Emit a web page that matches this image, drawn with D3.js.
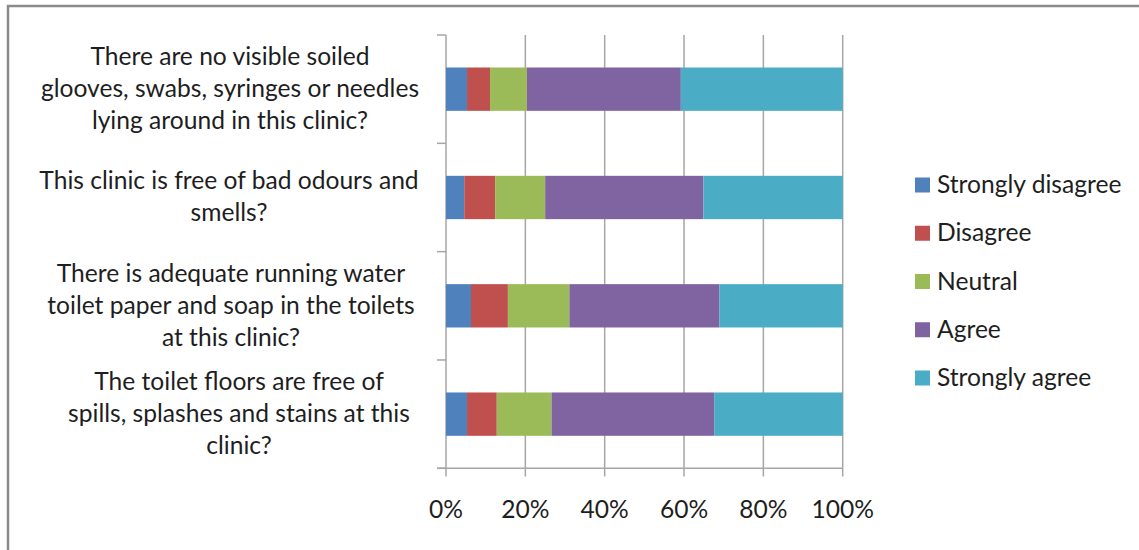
<!DOCTYPE html>
<html><head><meta charset="utf-8">
<script src="https://cdn.jsdelivr.net/npm/d3@7"></script>
<style>html,body{margin:0;padding:0;background:#fff;}svg{display:block;}</style>
</head><body>
<svg id="chart" width="1139" height="550"></svg>
<script>
// ---- data ----
const categories = [
  "There are no visible soiled glooves, swabs, syringes or needles lying around in this clinic?",
  "This clinic is free of bad odours and smells?",
  "There is adequate running water toilet paper and soap in the toilets at this clinic?",
  "The toilet floors are free of spills, splashes and stains at this clinic?"
];
const categoryLines = [
  ["There are no visible soiled", "glooves, swabs, syringes or needles", "lying around in this clinic?"],
  ["This clinic is free of bad odours and", "smells?"],
  ["There is adequate running water", "toilet paper and soap in the toilets", "at this clinic?"],
  ["The toilet floors are free of", "spills, splashes and stains at this", "clinic?"]
];
const seriesNames = ["Strongly disagree", "Disagree", "Neutral", "Agree", "Strongly agree"];
const stronglyDisagree = [5.3, 4.6, 6.3, 5.3];
const disagree = [5.8, 7.8, 9.3, 7.5];
const neutral = [9.3, 12.6, 15.5, 13.8];
const agree = [38.8, 39.9, 37.8, 41.0];
const stronglyAgree = [40.8, 35.1, 31.1, 32.4];
const xTicks = [0, 20, 40, 60, 80, 100];
const xTickLabels = ["0%", "20%", "40%", "60%", "80%", "100%"];
const colors = ["#4F81BD", "#C0504D", "#9BBB59", "#8064A2", "#4BACC6"];

// ---- build table ----
const seriesArrays = [stronglyDisagree, disagree, neutral, agree, stronglyAgree];
const table = categories.map((c, i) => {
  const row = {category: c};
  seriesNames.forEach((s, j) => row[s] = seriesArrays[j][i]);
  return row;
});
const stacked = d3.stack().keys(seriesNames)(table);

const svg = d3.select("#chart");
const FONT = "Lato, 'Open Sans', sans-serif";
const FS = 24.6;
const TEXT = "#1e1e1e";

// frame
svg.append("rect").attr("x", 8).attr("y", 6).attr("width", 1300).attr("height", 700)
  .attr("fill", "none").attr("stroke", "#8a8a8a").attr("stroke-width", 2.5);

const x = d3.scaleLinear().domain([0, 100]).range([446, 842.7]);
const y = d3.scaleBand().domain(categories).range([35, 468.3]).paddingInner(0).paddingOuter(0);
const bw = y.bandwidth();
const gridColor = "#a6a6a6";

// gridlines
svg.append("g").selectAll("line").data(xTicks.slice(1)).join("line")
  .attr("x1", d => x(d)).attr("x2", d => x(d))
  .attr("y1", 35).attr("y2", 476.5)
  .attr("stroke", gridColor).attr("stroke-width", 1.5);

// y axis
const yAxis = svg.append("g");
yAxis.append("line").attr("x1", x(0)).attr("x2", x(0)).attr("y1", 35).attr("y2", 476.5)
  .attr("stroke", gridColor).attr("stroke-width", 1.5);
const boundaries = categories.map(c => y(c)).concat([y(categories[categories.length-1]) + bw]);
yAxis.selectAll("line.tick").data(boundaries).join("line").attr("class","tick")
  .attr("x1", x(0) - 9).attr("x2", x(0)).attr("y1", d => d).attr("y2", d => d)
  .attr("stroke", gridColor).attr("stroke-width", 1.5);
// x axis line
svg.append("line").attr("x1", x(0) - 9).attr("x2", x(100)).attr("y1", 468.3).attr("y2", 468.3)
  .attr("stroke", gridColor).attr("stroke-width", 1.5);

// bars
svg.append("g").selectAll("g").data(stacked).join("g")
  .attr("fill", (d, i) => colors[i])
  .selectAll("rect").data(d => d).join("rect")
  .attr("x", d => x(d[0]))
  .attr("width", d => x(d[1]) - x(d[0]))
  .attr("y", d => y(d.data.category) + bw * 0.3)
  .attr("height", bw * 0.4);

// x tick labels
svg.append("g").selectAll("text").data(xTicks).join("text")
  .attr("x", d => x(d)).attr("y", 518)
  .attr("text-anchor", "middle")
  .attr("font-family", FONT).attr("font-size", FS).attr("fill", TEXT)
  .text((d, i) => xTickLabels[i]);

// category labels
const labelCenterX = [230, 229, 231, 239];
categories.forEach((c, i) => {
  const lines = categoryLines[i];
  const cy = y(c) + bw / 2;
  const t = svg.append("text").attr("text-anchor", "middle")
    .attr("font-family", FONT).attr("font-size", FS).attr("fill", TEXT);
  lines.forEach((ln, k) => {
    t.append("tspan").attr("x", labelCenterX[i])
      .attr("y", cy + (k - (lines.length - 1) / 2) * 32 + 8)
      .text(ln);
  });
});

// legend
const legendY = d3.scalePoint().domain(seriesNames).range([185, 378]);
const lg = svg.append("g");
seriesNames.forEach((s, i) => {
  lg.append("rect").attr("x", 915).attr("y", legendY(s) - 7.5).attr("width", 15).attr("height", 15)
    .attr("fill", colors[i]);
  lg.append("text").attr("x", 937).attr("y", legendY(s) + 8)
    .attr("font-family", FONT).attr("font-size", FS).attr("fill", TEXT).text(s);
});
</script>
</body></html>
